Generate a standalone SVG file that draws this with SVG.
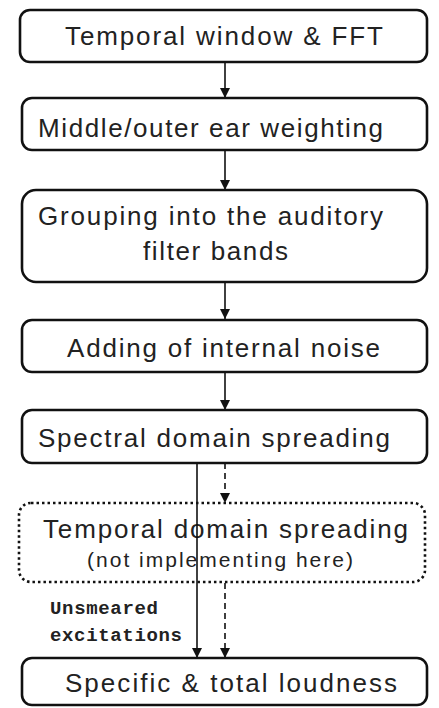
<svg xmlns="http://www.w3.org/2000/svg" width="439" height="708" viewBox="0 0 439 708">
<defs>
<marker id="ah" viewBox="0 0 10 10" refX="10" refY="5" markerWidth="10" markerHeight="10" markerUnits="userSpaceOnUse" orient="auto">
<path d="M0,0 L10,5 L0,10 Z" fill="#111"/>
</marker>
</defs>
<style>
.box{fill:#fff;stroke:#111;stroke-width:2.6}
.dot{fill:#fff;stroke:#111;stroke-width:2.6;stroke-dasharray:2.5 3}
.t{font-family:"Liberation Sans",Arial,sans-serif;font-size:26px;fill:#222}
.s{font-family:"Liberation Sans",Arial,sans-serif;font-size:21px;fill:#222}
.m{font-family:"Liberation Mono","Courier New",monospace;font-size:19px;fill:#222;font-weight:bold}
.c{stroke:#111;stroke-width:1.6;fill:none}
.d{stroke:#111;stroke-width:1.6;fill:none;stroke-dasharray:6 4}
</style>
<g id="connectors">
<line class="c" x1="225" y1="63" x2="225" y2="98" marker-end="url(#ah)"/>
<line class="c" x1="225" y1="151" x2="225" y2="190" marker-end="url(#ah)"/>
<line class="c" x1="225" y1="282" x2="225" y2="319" marker-end="url(#ah)"/>
<line class="c" x1="225" y1="372" x2="225" y2="410" marker-end="url(#ah)"/>
<line class="d" x1="225" y1="463" x2="225" y2="503" marker-end="url(#ah)"/>
<line class="d" x1="225" y1="583" x2="225" y2="658" marker-end="url(#ah)"/>
</g>
<g id="n1"><rect class="box" x="20" y="10" width="407" height="52" rx="10"/>
<text class="t" x="65" y="45" textLength="318" lengthAdjust="spacing">Temporal window  &amp; FFT</text></g>
<g id="n2"><rect class="box" x="22" y="98" width="405" height="52" rx="10"/>
<text class="t" x="38" y="137" textLength="345" lengthAdjust="spacing">Middle/outer ear weighting</text></g>
<g id="n3"><rect class="box" x="22" y="190" width="405" height="92" rx="14"/>
<text class="t" x="38" y="225" textLength="345" lengthAdjust="spacing">Grouping into the auditory</text>
<text class="t" x="143" y="260" textLength="145" lengthAdjust="spacing">filter bands</text></g>
<g id="n4"><rect class="box" x="22" y="320" width="405" height="52" rx="10"/>
<text class="t" x="67" y="357" textLength="313" lengthAdjust="spacing">Adding of internal noise</text></g>
<g id="n5"><rect class="box" x="22" y="410" width="405" height="53" rx="10"/>
<text class="t" x="38" y="447" textLength="352" lengthAdjust="spacing">Spectral domain spreading</text></g>
<g id="n6"><rect class="dot" x="19" y="503" width="406" height="79" rx="12"/>
<text class="t" x="43" y="538" textLength="365" lengthAdjust="spacing">Temporal domain spreading</text>
<text class="s" x="87" y="567" textLength="266" lengthAdjust="spacing">(not implementing here)</text></g>
<g id="solid"><line class="c" x1="197" y1="463" x2="197" y2="658" marker-end="url(#ah)"/></g>
<g id="label"><text class="m" x="50" y="614" textLength="108" lengthAdjust="spacing">Unsmeared</text>
<text class="m" x="50" y="641" textLength="132" lengthAdjust="spacing">excitations</text></g>
<g id="n7"><rect class="box" x="22" y="658" width="405" height="47" rx="10"/>
<text class="t" x="65" y="692" textLength="332" lengthAdjust="spacing">Specific &amp; total loudness</text></g>
</svg>
